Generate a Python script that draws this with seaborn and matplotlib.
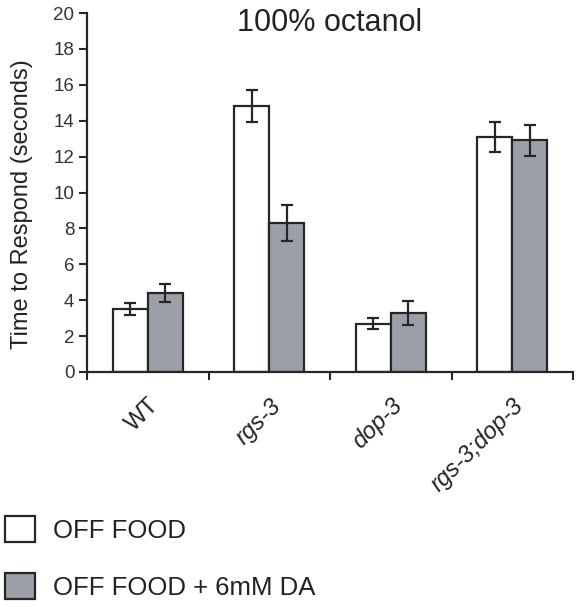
import matplotlib
matplotlib.use("Agg")
import matplotlib.pyplot as plt
import seaborn as sns
import pandas as pd

strains = ["WT", "rgs-3", "dop-3", "rgs-3;dop-3"]
conditions = ["OFF FOOD", "OFF FOOD + 6mM DA"]
off_food = [3.5, 14.8, 2.7, 13.1]
off_food_err = [0.35, 0.9, 0.3, 0.82]
off_food_da = [4.4, 8.3, 3.3, 12.9]
off_food_da_err = [0.5, 1.0, 0.68, 0.87]
yticks = list(range(0, 21, 2))

sns.set_style("white")
plt.rcParams["font.family"] = ["Liberation Sans", "DejaVu Sans"]

df = pd.DataFrame({
    "strain": strains * 2,
    "time": off_food + off_food_da,
    "cond": [conditions[0]] * 4 + [conditions[1]] * 4,
})

fig = plt.figure(figsize=(5.81, 6.07), dpi=100)
ax = fig.add_axes([87 / 581, 1 - 372 / 607, (573 - 87) / 581, (372 - 13) / 607])

edge = "#262626"
sns.barplot(data=df, x="strain", y="time", hue="cond", order=strains,
            hue_order=conditions, palette=["white", "#9ba0a8"], width=0.58,
            edgecolor=edge, linewidth=1.6, errorbar=None, ax=ax, saturation=1)

errs = [off_food_err, off_food_da_err]
for cont, err in zip(ax.containers, errs):
    xs = [p.get_x() + p.get_width() / 2 for p in cont]
    ys = [p.get_height() for p in cont]
    ax.errorbar(xs, ys, yerr=err, fmt="none", ecolor=edge, elinewidth=1.6,
                capsize=4.5, capthick=1.6, zorder=5)

ax.set_ylim(0, 20)
ax.set_xlim(-0.5, 3.5)
ax.set_yticks(yticks)
ax.set_yticklabels([str(t) for t in yticks], fontsize=13.5, color="#333333")
ax.set_ylabel("Time to Respond (seconds)", fontsize=17, color="#222222")
ax.yaxis.set_label_coords(-0.111, 0.468)
ax.set_xlabel("")

# major ticks at group boundaries, labels at group centres
ax.set_xticks([-0.5, 0.5, 1.5, 2.5, 3.5])
ax.set_xticklabels([""] * 5)
ax.set_xticks(range(len(strains)), minor=True)
ax.set_xticklabels(strains, minor=True, rotation=45, ha="right", va="top",
                   rotation_mode="anchor", fontsize=17, color="#222222")
for lbl in ax.get_xticklabels(minor=True):
    if lbl.get_text() != "WT":
        lbl.set_style("italic")
ax.tick_params(axis="x", which="minor", length=0, pad=16)
ax.tick_params(axis="both", which="major", direction="out", length=6,
               width=1.5, color=edge, bottom=True, left=True)
ax.tick_params(axis="y", pad=3)

sns.despine(ax=ax)
for s in ["left", "bottom"]:
    ax.spines[s].set_linewidth(1.6)
    ax.spines[s].set_color(edge)

ax.set_title("100% octanol", fontsize=22, color="#222222", pad=0,
             y=(372 - 23) / 359, va="center")

handles, labels = ax.get_legend_handles_labels()
if ax.get_legend() is not None:
    ax.get_legend().remove()
fig.legend(handles, labels, loc="upper left",
           bbox_to_anchor=(5 / 581, 1 - 516 / 607), frameon=False,
           fontsize=18.5, handlelength=1.17, handleheight=1.17, handletextpad=0.68,
           labelspacing=1.2, borderpad=0, borderaxespad=0, labelcolor="#222222")

fig.savefig("out.png", dpi=100)
